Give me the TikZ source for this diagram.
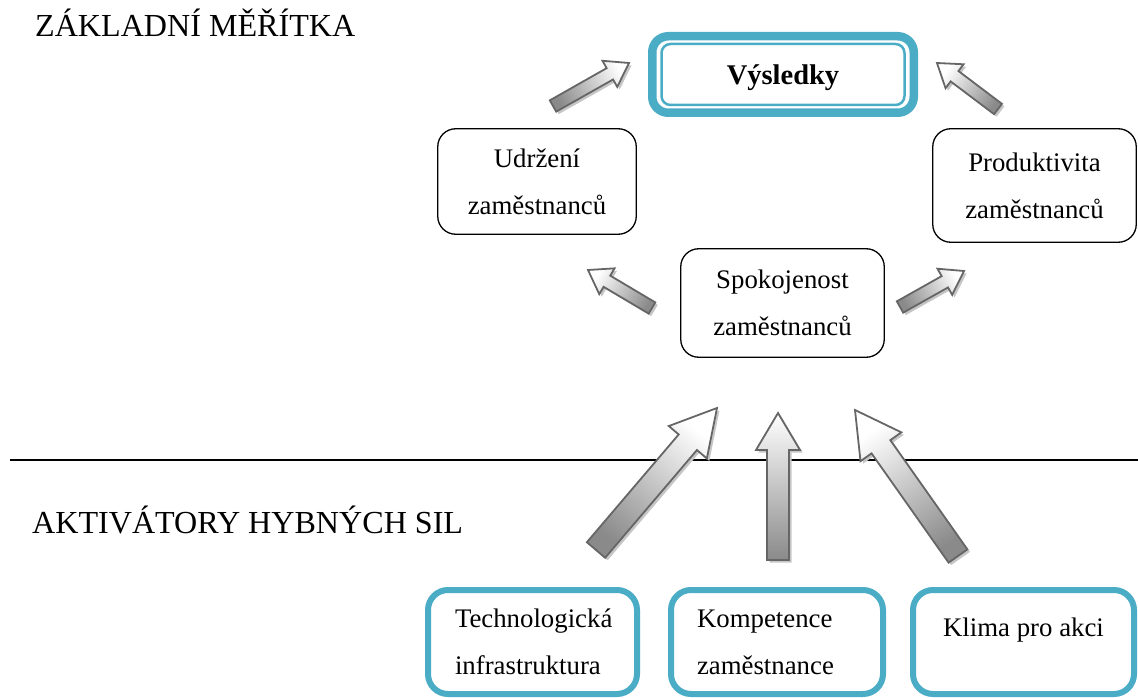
\documentclass[tikz,border=0pt]{standalone}
\usepackage{fontspec}
\setmainfont{Liberation Serif}
\usetikzlibrary{calc}

\definecolor{teal5}{HTML}{4BACC6}
\definecolor{arrowline}{HTML}{666666}
\definecolor{arrowdark}{HTML}{8A8A8A}
\definecolor{arrowshadow}{HTML}{C6C6C6}

\newcommand\dgboxfont{\fontsize{26.8}{47}\selectfont}
\newcommand\dgheadfont{\fontsize{32.1}{38}\selectfont}

% block arrow: #1 tail, #2 tip, #3 half shaft width, #4 half head width, #5 head length
\newcommand\blockarrow[5]{%
  \path ($(#2)!#5!(#1)$) coordinate (ba-b);
  \pgfmathanglebetweenpoints{\pgfpointanchor{#1}{center}}{\pgfpointanchor{#2}{center}}%
  \pgfmathsetmacro\bashade{\pgfmathresult-90}%
  \def\bapath{($(#1)!#3!90:(#2)$) -- ($(ba-b)!#3!90:(#2)$) -- ($(ba-b)!#4!90:(#2)$) -- (#2)
    -- ($(ba-b)!#4!-90:(#2)$) -- ($(ba-b)!#3!-90:(#2)$) -- ($(#1)!#3!-90:(#2)$) -- cycle}%
  \begin{scope}[transform canvas={shift={(2.5pt,-2.5pt)}}]
    \fill[arrowshadow] \bapath;
  \end{scope}
  \draw[blockarrowstyle, shading angle=\bashade] \bapath;
}

\tikzset{
  blockarrowstyle/.style={draw=arrowline, line width=1.8pt, line join=miter,
    top color=white, bottom color=arrowdark},
  plainbox/.style={draw=black, line width=1.3pt, rounded corners=18pt,
    align=center, font=\dgboxfont},
  actbox/.style={draw=teal5, line width=6pt, rounded corners=20pt,
    font=\dgboxfont},
  heading/.style={font=\dgheadfont, anchor=base west, inner sep=0pt},
}

\begin{document}
\begin{tikzpicture}[x=1pt,y=-1pt]
\useasboundingbox (0,0) rectangle (1138,698);

% section headings and divider
\node[heading] (zm) at (35,37) {ZÁKLADNÍ MĚŘÍTKA};
\node[heading] (ahs) at (32,533) {AKTIVÁTORY HYBNÝCH SIL};
\coordinate (sepL) at (10,460);
\coordinate (sepR) at (1138,460);
\draw[line width=2pt] (sepL) -- (sepR);

% outcome box with double teal frame
\node[draw=teal5, line width=8.5pt, rounded corners=16pt, minimum width=261.5pt,
  minimum height=76.5pt, text height=24pt, text depth=4pt,
  font=\bfseries\fontsize{28.5}{34}\selectfont]
  (vys) at (783,74.5) {Výsledky};
\draw[teal5, line width=2.5pt, rounded corners=9pt]
  ([shift={(13.5,12)}]vys.north west) rectangle ([shift={(-13.5,-12)}]vys.south east);

% core measures
\node[plainbox, minimum width=198.5pt, minimum height=105.5pt] (udr) at (537,181.5)
  {Udržení\\zaměstnanců};
\node[plainbox, minimum width=203.5pt, minimum height=113.5pt] (prod) at (1034.5,185.5)
  {Produktivita\\zaměstnanců};
\node[plainbox, minimum width=203.5pt, minimum height=108.5pt] (spok) at (782.5,303)
  {Spokojenost\\zaměstnanců};

% drivers
\node[actbox, minimum width=209pt, minimum height=104pt, text width=155pt, align=left]
  (tech) at (532.5,642) {Technologická\\infrastruktura};
\node[actbox, minimum width=212pt, minimum height=104pt, text width=160pt, align=left]
  (komp) at (777,642) {Kompetence\\zaměstnance};
\node[actbox, minimum width=221pt, minimum height=104pt, align=center, text depth=30pt]
  (klima) at (1023.5,642) {Klima pro akci};

% arrow end points
\coordinate (a1t) at (553,106);  \coordinate (a1h) at (629,63);
\coordinate (a2t) at (998,109);  \coordinate (a2h) at (937,63);
\coordinate (a3t) at (652,308);  \coordinate (a3h) at (588,270);
\coordinate (a4t) at (900,307);  \coordinate (a4h) at (964,271);
\coordinate (a5t) at (596,550);  \coordinate (a5h) at (717,408);
\coordinate (a6t) at (778,560);  \coordinate (a6h) at (778,413);
\coordinate (a7t) at (958,556);  \coordinate (a7h) at (855,410);

\blockarrow{a1t}{a1h}{6.5pt}{15pt}{22pt}
\blockarrow{a2t}{a2h}{6.5pt}{15pt}{22pt}
\blockarrow{a3t}{a3h}{6.5pt}{15pt}{22pt}
\blockarrow{a4t}{a4h}{6.5pt}{15pt}{22pt}
\blockarrow{a5t}{a5h}{12pt}{25pt}{45pt}
\blockarrow{a6t}{a6h}{11pt}{22pt}{37pt}
\blockarrow{a7t}{a7h}{11.5pt}{25pt}{45pt}
\end{tikzpicture}
\end{document}
